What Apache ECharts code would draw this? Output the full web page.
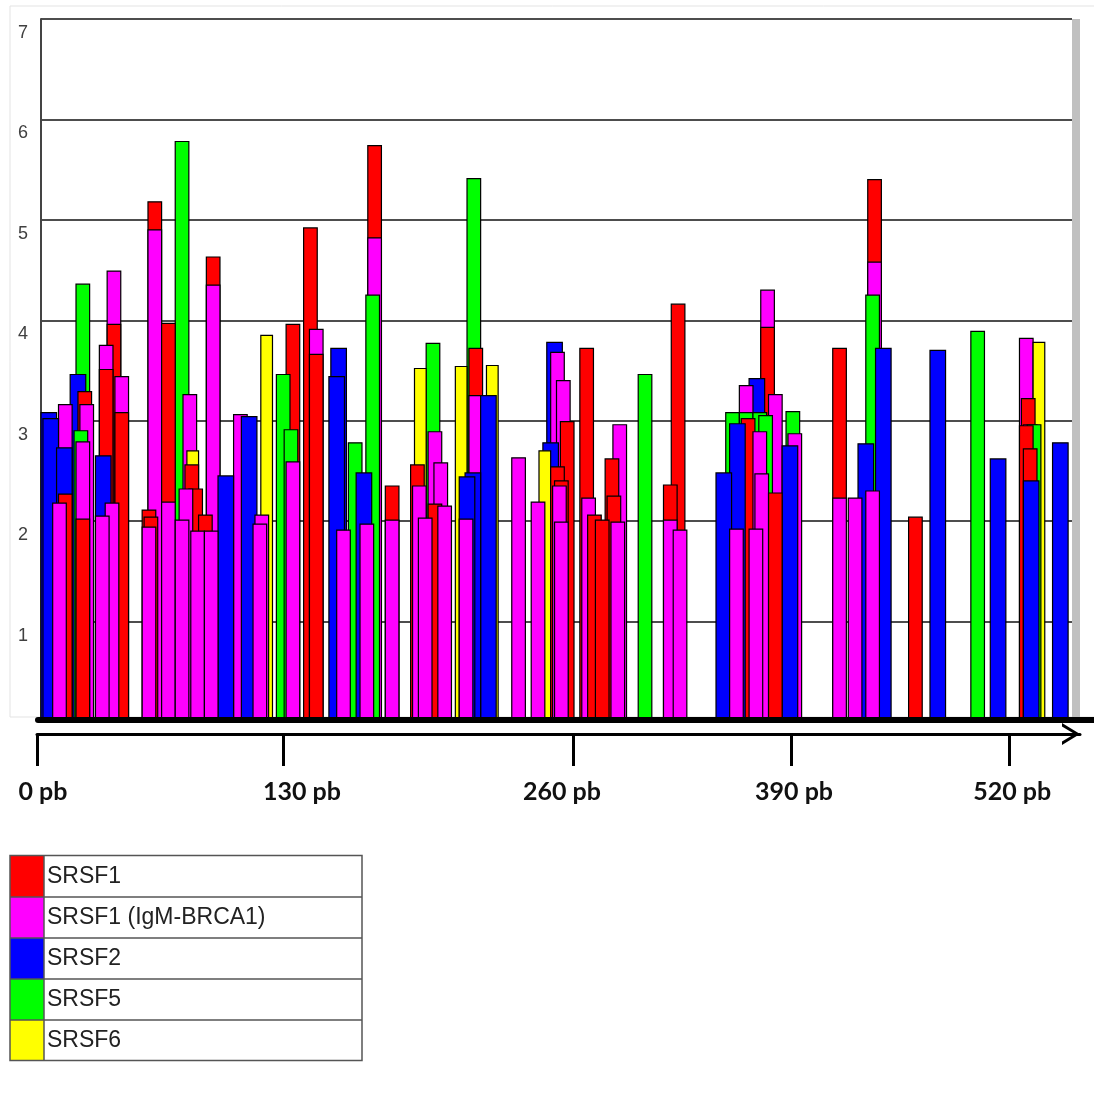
<!DOCTYPE html>
<html>
<head>
<meta charset="utf-8">
<script src="https://cdn.jsdelivr.net/npm/echarts@6/dist/echarts.min.js"></script>
<style>html,body{margin:0;padding:0;background:#fff;}#c{width:1094px;height:1097px;}</style>
</head>
<body>
<div id="c"></div>
<script>
// ---- data: [motif start position (nt), score] per SR protein ----
const factorNames = ['SRSF1', 'SRSF1 (IgM-BRCA1)', 'SRSF2', 'SRSF5', 'SRSF6'];
const motifLength = [7, 7, 8, 7, 6];
const srsf1 = [[9,2.27],[18,2.02],[19,3.29],[30,3.51],[34,3.96],[38,3.08],[52,2.11],[53,2.04],[55,5.18],[62,3.97],
  [74,2.56],[76,2.32],[81,2.06],[85,4.63],[126,3.96],[135,4.92],[138,3.66],[168,5.74],[177,2.35],[190,2.56],
  [199,2.17],[220,3.72],[262,2.54],[264,2.4],[267,2.99],[277,3.72],[281,2.06],[285,2.01],[290,2.62],[291,2.25],
  [320,2.36],[324,4.16],[360,3.02],[370,3.93],[374,2.28],[407,3.72],[425,5.4],[446,2.04],[503,2.95],[504,3.22],[505,2.72]];
const srsf1IgM = [[6,2.18],[9,3.16],[18,2.79],[20,3.16],[28,2.05],[30,3.75],[33,2.18],[34,4.49],[38,3.44],[52,1.94],
  [55,4.9],[62,2.19],[69,2.01],[71,2.32],[73,3.26],[77,1.9],[84,1.9],[85,4.35],[99,3.06],[109,1.97],[110,2.06],
  [126,2.59],[138,3.91],[152,1.91],[164,1.97],[168,4.82],[177,2.01],[191,2.35],[194,2.03],[199,2.89],[202,2.58],
  [204,2.15],[215,2.02],[220,3.25],[242,2.63],[252,2.19],[262,3.68],[263,2.35],[264,1.99],[265,3.4],[278,2.23],
  [293,1.99],[294,2.96],[320,2.01],[325,1.91],[354,1.92],[359,3.35],[364,1.92],[366,2.89],[367,2.47],[370,4.3],
  [374,3.26],[384,2.87],[407,2.23],[415,2.23],[424,2.3],[425,4.58],[503,3.82],[505,2.96]];
const srsf2 = [[0,3.08],[1,3.02],[8,2.73],[15,3.46],[28,2.65],[91,2.45],[103,3.04],[148,3.44],[149,3.72],[162,2.48],
  [215,2.44],[218,2.48],[226,3.25],[258,2.78],[260,3.78],[347,2.48],[354,2.97],[364,3.42],[381,2.75],[420,2.77],
  [429,3.72],[457,3.7],[488,2.62],[505,2.4],[520,2.78]];
const srsf5 = [[17,2.9],[18,4.36],[69,5.78],[121,3.46],[125,2.91],[158,2.78],[167,4.25],[198,3.77],[219,5.41],[307,3.46],
  [352,3.08],[359,3.08],[366,3.08],[369,3.05],[383,3.09],[424,4.25],[478,3.89],[507,2.96]];
const srsf6 = [[75,2.7],[113,3.85],[192,3.52],[213,3.54],[229,3.55],[256,2.7],[510,3.78]];
const factorData = [srsf1, srsf1IgM, srsf2, srsf5, srsf6];
const factorColors = ['#ff0000', '#ff00ff', '#0000ff', '#00ff00', '#ffff00'];
// hand-drawn ruler under the chart: labels and where the figure places them
const rulerLabels = ['0 pb', '130 pb', '260 pb', '390 pb', '520 pb'];
const rulerTickAt = [0, 126.5, 275.6, 387.7, 499.7];
const rulerLabelAt = [3.1, 136.2, 269.9, 389.2, 501.3];
const yTicks = [0, 1, 2, 3, 4, 5, 6, 7];

function makeRender(len) {
  return function (params, api) {
    const start = api.value(0), score = api.value(1);
    const p0 = api.coord([start, 0]);
    const p1 = api.coord([start + len, score]);
    return {
      type: 'rect',
      shape: { x: p0[0], y: p1[1], width: p1[0] - p0[0], height: p0[1] - p1[1] },
      style: { fill: api.visual('color'), stroke: '#000', lineWidth: 1.2 },
      z2: Math.round((10 - score) * 1000)
    };
  };
}

const series = factorNames.map((name, i) => ({
  type: 'custom', name: name, xAxisIndex: 0, yAxisIndex: 0,
  itemStyle: { color: factorColors[i] },
  encode: { x: 0, y: 1 },
  renderItem: makeRender(motifLength[i]),
  data: factorData[i]
}));

const chart = echarts.init(document.getElementById('c'), null, { renderer: 'canvas' });
const chevron = 'path://M0,18 L11,0 L22,18 L18.5,18 L11,5.5 L3.5,18 Z';
chart.setOption({
  animation: false,
  backgroundColor: '#fff',
  grid: [
    { left: 41, top: 19, width: 1031, height: 703 },
    { left: 37, top: 733, width: 1043, height: 1 },
    { left: 38, right: 0, top: 600, height: 120 }
  ],
  xAxis: [
    { gridIndex: 0, type: 'value', min: 0, max: 530, show: false },
    { gridIndex: 1, type: 'value', min: 0, max: 536.2, position: 'bottom',
      axisLine: { show: true, lineStyle: { color: '#000', width: 3 }, symbol: ['none', chevron],
        symbolSize: [22, 18], symbolOffset: [0, -9] },
      axisTick: { show: true, customValues: rulerTickAt, length: 32, lineStyle: { color: '#000', width: 3 } },
      axisLabel: { customValues: rulerLabelAt, margin: 45, fontSize: 25, fontWeight: 'bold', fontFamily: 'Lato', color: '#111',
        formatter: function (v) {
          let best = 0;
          rulerLabelAt.forEach((p, k) => { if (Math.abs(p - v) < Math.abs(rulerLabelAt[best] - v)) best = k; });
          return rulerLabels[best];
        } },
      splitLine: { show: false } },
    { gridIndex: 2, type: 'value', min: 0, max: 1, z: 10,
      axisLine: { show: true, lineStyle: { color: '#000', width: 6 } },
      axisTick: { show: false }, axisLabel: { show: false }, splitLine: { show: false } }
  ],
  yAxis: [
    { gridIndex: 0, type: 'value', min: 0, max: 7, interval: 1,
      axisLine: { show: true, lineStyle: { color: '#444', width: 2 } },
      axisTick: { show: false },
      splitLine: { show: true, lineStyle: { color: '#4d4d4d', width: 2 } },
      axisLabel: { margin: 13, fontSize: 18, fontFamily: 'Liberation Sans', color: '#404040', verticalAlign: 'top',
        padding: [5, 0, 0, 0], formatter: v => (v === yTicks[0] ? '' : String(v)) } },
    { gridIndex: 0, type: 'value', min: 0, max: 7, position: 'right', offset: 4,
      axisLine: { show: true, lineStyle: { color: '#c0c0c0', width: 8, cap: 'butt' } },
      axisTick: { show: false }, axisLabel: { show: false }, splitLine: { show: false } },
    { gridIndex: 1, type: 'value', show: false },
    { gridIndex: 2, type: 'value', show: false }
  ],
  legend: {
    orient: 'vertical', left: 10, top: 856, padding: 0, itemGap: 0,
    itemWidth: 34, itemHeight: 41, icon: 'rect', selectedMode: false,
    textStyle: { fontSize: 23, fontFamily: 'Liberation Sans', color: '#222', padding: [0, 0, 0, -2] },
    data: factorNames.map((n, i) => ({ name: n, itemStyle: { color: factorColors[i], borderWidth: 0 } }))
  },
  graphic: [
    { type: 'rect', z: -1, shape: { x: 10, y: 6, width: 1100, height: 711 }, style: { fill: null, stroke: '#e3e3e3', lineWidth: 1 } },
    { type: 'rect', z: 100, shape: { x: 10, y: 855.5, width: 352, height: 205 }, style: { fill: null, stroke: '#555', lineWidth: 1.5 } },
    { type: 'line', z: 100, shape: { x1: 44, y1: 855.5, x2: 44, y2: 1060.5 }, style: { stroke: '#555', lineWidth: 1.5 } },
    { type: 'line', z: 100, shape: { x1: 10, y1: 897, x2: 362, y2: 897 }, style: { stroke: '#555', lineWidth: 1.5 } },
    { type: 'line', z: 100, shape: { x1: 10, y1: 938, x2: 362, y2: 938 }, style: { stroke: '#555', lineWidth: 1.5 } },
    { type: 'line', z: 100, shape: { x1: 10, y1: 979, x2: 362, y2: 979 }, style: { stroke: '#555', lineWidth: 1.5 } },
    { type: 'line', z: 100, shape: { x1: 10, y1: 1020, x2: 362, y2: 1020 }, style: { stroke: '#555', lineWidth: 1.5 } }
  ],
  series: series
});
</script>
</body>
</html>
